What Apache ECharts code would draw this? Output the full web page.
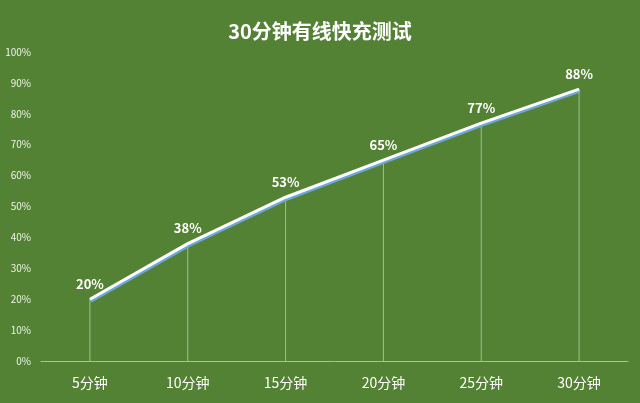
<!DOCTYPE html>
<html><head><meta charset="utf-8">
<script src="https://cdn.jsdelivr.net/npm/echarts@6/dist/echarts.min.js"></script>
<style>html,body{margin:0;padding:0;background:#548235;}#c{width:640px;height:403px;}</style>
</head><body><div id="c"></div>
<script>
const categories = ['5分钟','10分钟','15分钟','20分钟','25分钟','30分钟'];
const values = [20, 38, 53, 65, 77, 88];
const yTicks = [0,10,20,30,40,50,60,70,80,90,100];
const title = '30分钟有线快充测试';
const font = '"Microsoft YaHei","Noto Sans CJK SC","Open Sans",sans-serif';
const chart = echarts.init(document.getElementById('c'));
chart.setOption({
  backgroundColor: '#548235',
  animation: false,
  title: { text: title, left: 'center', top: 16, textStyle: { color: '#ffffff', fontSize: 20, fontWeight: 'bold', fontFamily: font } },
  grid: { left: 41, right: 12, top: 52, bottom: 42 },
  xAxis: {
    type: 'category', data: categories, boundaryGap: true,
    axisLine: { lineStyle: { color: '#a9c49a', width: 1 } },
    axisTick: { show: false },
    axisLabel: { color: '#ffffff', fontSize: 14, margin: 15, fontFamily: font }
  },
  yAxis: {
    type: 'value', min: 0, max: 100, interval: 10,
    axisLine: { show: false }, axisTick: { show: false }, splitLine: { show: false },
    axisLabel: { color: '#eef4e8', fontSize: 10, margin: 10, formatter: v => v + '%', fontFamily: font }
  },
  series: [
    { type: 'bar', data: values, barWidth: 1, itemStyle: { color: 'rgba(215,232,205,0.6)' }, silent: true, z: 1,
      label: { show: true, position: 'top', distance: 9, color: '#ffffff', fontWeight: 'bold', fontSize: 13, fontFamily: font, formatter: p => p.value + '%' } },
    { type: 'line', data: values, symbol: 'none', z: 3,
      lineStyle: { color: '#ffffff', width: 3, shadowColor: '#6fa8d8', shadowOffsetX: 1, shadowOffsetY: 2, shadowBlur: 0 }
    }
  ]
});
</script></body></html>
